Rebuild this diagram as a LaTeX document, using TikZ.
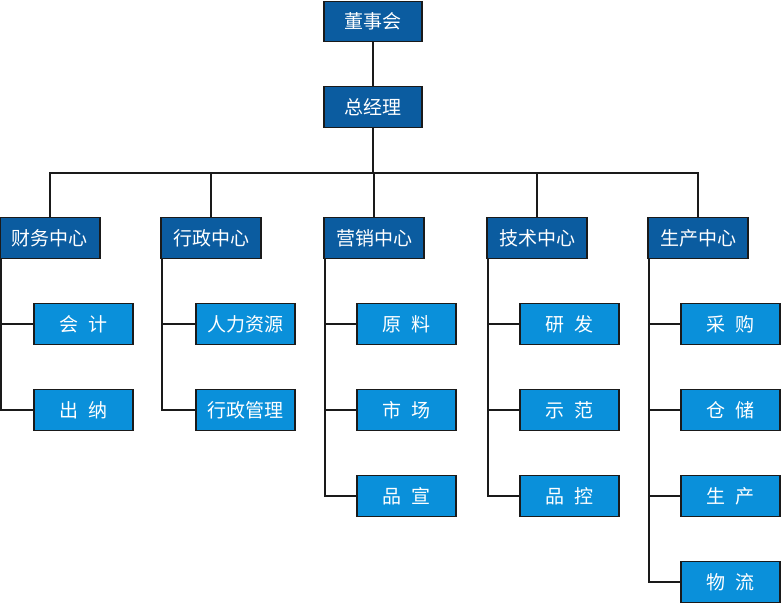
\documentclass[tikz,border=0pt]{standalone}
\usepackage{fontspec}
\setmainfont{Noto Sans CJK SC}
\definecolor{darkbox}{HTML}{0B5CA0}
\definecolor{lightbox}{HTML}{0A90DA}
\definecolor{linec}{HTML}{1A1A1A}
\newcommand{\gp}{\hspace{0.5em}}
\begin{document}
\begin{tikzpicture}[x=1pt,y=-1pt,
  base/.style={draw=linec,line width=1.6pt,text=white,inner sep=0pt,
    font=\fontsize{19}{22}\selectfont},
  topbox/.style={base,fill=darkbox,minimum width=98pt,minimum height=40pt},
  centerbox/.style={topbox,minimum width=100pt,minimum height=41pt},
  subbox/.style={base,fill=lightbox,minimum width=99pt,minimum height=41pt},
  conn/.style={draw=linec,line width=2pt}]
\useasboundingbox (0,0) rectangle (781,604);
\node[topbox] (board) at (373,21.5) {董事会};
\node[topbox,minimum height=41pt] (gm) at (373,107) {总经理};
\coordinate (bus) at (373,173);
\node[centerbox] (c1) at (50,238) {财务中心};
\node[centerbox] (c2) at (211,238) {行政中心};
\node[centerbox] (c3) at (374,238) {营销中心};
\node[centerbox] (c4) at (537,238) {技术中心};
\node[centerbox] (c5) at (698,238) {生产中心};
\node[subbox] (a1) at (83.5,324) {会\gp 计};
\node[subbox] (a2) at (83.5,410) {出\gp 纳};
\node[subbox] (b1) at (245.5,324) {人力资源};
\node[subbox] (b2) at (245.5,410) {行政管理};
\node[subbox] (m1) at (406.5,324) {原\gp 料};
\node[subbox] (m2) at (406.5,410) {市\gp 场};
\node[subbox] (m3) at (406.5,496) {品\gp 宣};
\node[subbox] (t1) at (569.5,324) {研\gp 发};
\node[subbox] (t2) at (569.5,410) {示\gp 范};
\node[subbox] (t3) at (569.5,496) {品\gp 控};
\node[subbox] (p1) at (730.5,324) {采\gp 购};
\node[subbox] (p2) at (730.5,410) {仓\gp 储};
\node[subbox] (p3) at (730.5,496) {生\gp 产};
\node[subbox] (p4) at (730.5,582) {物\gp 流};
\path[conn] (board.south) -- (gm.north);
\path[conn] (gm.south) -- (bus);
\foreach \c in {c1,c2,c3,c4,c5} \path[conn] (\c.north) |- (bus);
\foreach \c/\s in {c1/a1,c1/a2,c2/b1,c2/b2,c3/m1,c3/m2,c3/m3,c4/t1,c4/t2,c4/t3,c5/p1,c5/p2,c5/p3,c5/p4}
  \path[conn] ([xshift=2pt]\c.south west) |- (\s.west);
\end{tikzpicture}
\end{document}
